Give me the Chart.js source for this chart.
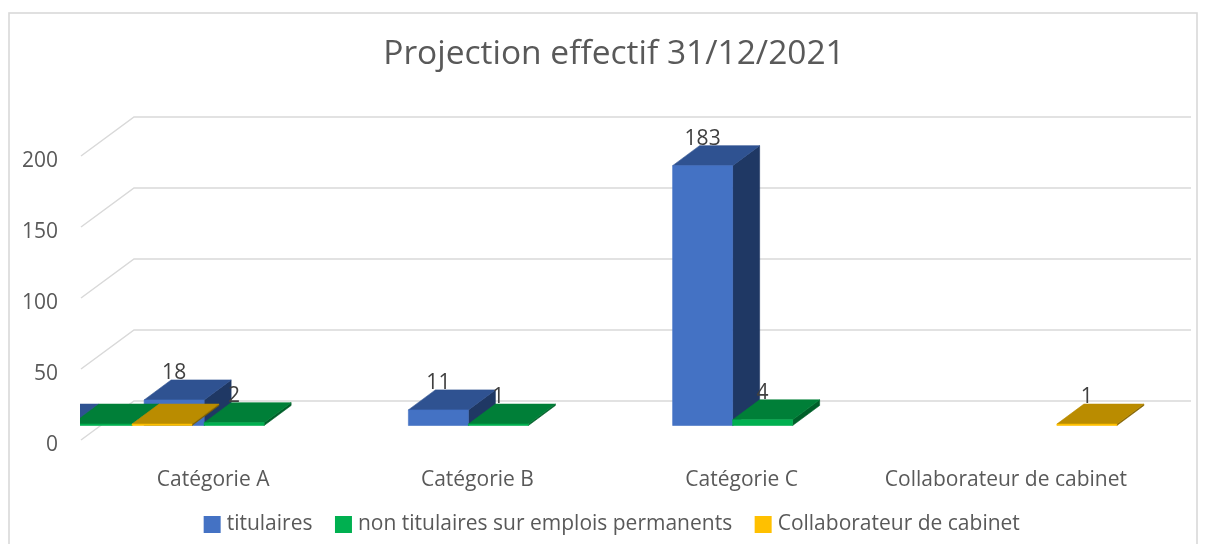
<!DOCTYPE html>
<html><head><meta charset="utf-8">
<style>html,body{margin:0;padding:0;background:#fff}#w{width:1208px;height:544px;position:relative}</style>
<script src="https://cdn.jsdelivr.net/npm/chart.js@4"></script>
</head><body><div id="w"><canvas id="c" width="1208" height="544"></canvas></div>
<script>
const chartTitle = "Projection effectif 31/12/2021";
const categories = ["", "Catégorie A", "", "Catégorie B", "", "Catégorie C", "", "Collaborateur de cabinet", ""];
const seriesNames = ["titulaires", "non titulaires sur emplois permanents", "Collaborateur de cabinet"];
const titulaires = [1, 18, null, 11, null, 183, null, null, null];
const nonTitulaires = [1, 2, null, 1, null, 4, null, null, null];
const collaborateur = [1, null, null, null, null, null, null, 1, null];
const yTicks = [0, 50, 100, 150, 200];
const frontColors = ["#4472C4", "#00B050", "#FFC000"];
const topColors = ["#2F5291", "#007F38", "#BA8C00"];
const sideColors = ["#1F3864", "#005F2A", "#7F6000"];
const FONT = "'Open Sans'";
const TEXT = "#595959";
const GRID = "#D9D9D9";
const wall = {dx: 53, dy: 39};
const bar = {dx: 21, dy: 14.5, ddx: 27, ddy: 20};

const scene3d = {
  id: "scene3d",
  beforeDatasetsDraw(chart) {
    const {ctx, chartArea: a, scales} = chart;
    ctx.save();
    ctx.strokeStyle = GRID; ctx.lineWidth = 1.6;
    ctx.strokeRect(9, 13, 1188, 540);
    ctx.lineWidth = 1.5;
    scales.y.ticks.forEach(t => {
      const y = scales.y.getPixelForValue(t.value);
      ctx.beginPath();
      ctx.moveTo(a.left, y);
      ctx.lineTo(a.left + wall.dx, y - wall.dy);
      ctx.lineTo(a.right + wall.dx, y - wall.dy);
      ctx.stroke();
    });
    ctx.beginPath(); ctx.rect(a.left - 1, 0, chart.width, chart.height); ctx.clip();
    const n = categories.length;
    const poly = (c, p) => {
      ctx.fillStyle = c; ctx.strokeStyle = c; ctx.lineWidth = 0.6; ctx.beginPath();
      p.forEach((q, i) => i ? ctx.lineTo(q[0], q[1]) : ctx.moveTo(q[0], q[1]));
      ctx.closePath(); ctx.fill(); ctx.stroke();
    };
    for (let i = n - 1; i >= 0; i--) {
      chart.data.datasets.forEach((ds, d) => {
        const el = chart.getDatasetMeta(d).data[i];
        if (ds.data[i] == null || !el) return;
        const l = el.x - el.width / 2 + bar.dx, r = el.x + el.width / 2 + bar.dx;
        const t = el.y - bar.dy, b = el.base - bar.dy;
        poly(sideColors[d], [[r, t], [r + bar.ddx, t - bar.ddy], [r + bar.ddx, b - bar.ddy], [r, b]]);
        poly(topColors[d], [[l, t], [l + bar.ddx, t - bar.ddy], [r + bar.ddx, t - bar.ddy], [r, t]]);
        poly(frontColors[d], [[l, t], [r, t], [r, b], [l, b]]);
      });
    }
    ctx.fillStyle = "#404040";
    ctx.font = "21px " + FONT; ctx.textAlign = "center"; ctx.textBaseline = "middle";
    for (let i = n - 1; i >= 0; i--) {
      if (!categories[i]) continue;
      chart.data.datasets.forEach((ds, d) => {
        const el = chart.getDatasetMeta(d).data[i];
        if (ds.data[i] == null || !el) return;
        ctx.fillText(String(ds.data[i]), el.x + bar.dx, el.y - bar.dy - bar.ddy - 7);
      });
    }
    ctx.restore();
    return false;
  }
};

new Chart(document.getElementById("c"), {
  type: "bar",
  data: {
    labels: categories,
    datasets: [
      {label: seriesNames[0], data: titulaires, backgroundColor: frontColors[0]},
      {label: seriesNames[1], data: nonTitulaires, backgroundColor: frontColors[1]},
      {label: seriesNames[2], data: collaborateur, backgroundColor: frontColors[2]}
    ]
  },
  options: {
    responsive: false, animation: false, events: [],
    barThickness: 60,
    layout: {padding: {left: 20, right: 0, top: 0, bottom: -1}},
    plugins: {
      tooltip: {enabled: false},
      title: {display: true, text: chartTitle, color: TEXT, font: {family: FONT, size: 33.5, weight: "normal"}, padding: {top: 34, bottom: 81.8}},
      legend: {position: "bottom", labels: {color: TEXT, font: {family: FONT, size: 21}, usePointStyle: true, pointStyle: "rect", boxWidth: 8, boxHeight: 17, padding: 27}}
    },
    scales: {
      x: {type: "category", offset: false, grid: {display: false, drawTicks: false, offset: false}, border: {display: false},
          ticks: {color: TEXT, font: {family: FONT, size: 21}, autoSkip: false, maxRotation: 0, padding: 27},
          afterFit(s) { s.height = 47; s._computeLabelArea = () => undefined; }},
      y: {min: 0, max: 200, position: "left", grid: {display: false, drawTicks: false}, border: {display: false},
          afterBuildTicks(s) { s.ticks = yTicks.map(v => ({value: v})); },
          ticks: {color: TEXT, font: {family: FONT, size: 21}, padding: 23, labelOffset: 5.5},
          afterFit(s) { s.width = 61; s._computeLabelArea = () => undefined; }},
      yR: {position: "right", display: true, grid: {display: false}, border: {display: false}, ticks: {display: false}, afterFit(s) { s.width = 70; }}
    }
  },
  plugins: [scene3d]
});
</script></body></html>
